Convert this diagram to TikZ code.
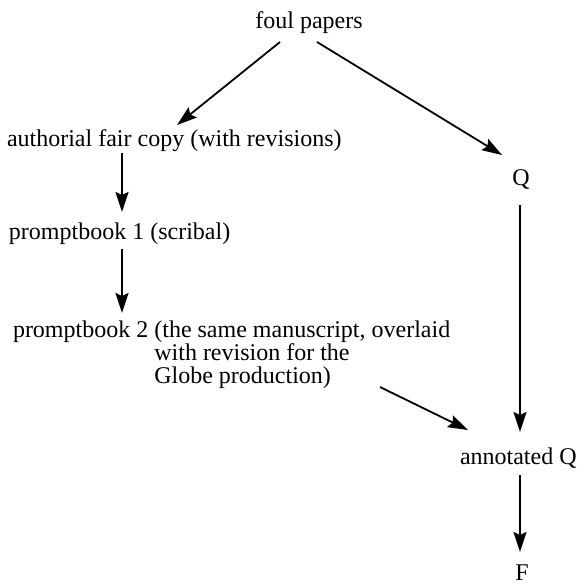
\documentclass[tikz,border=0pt]{standalone}
\usepackage{fontspec}
\setmainfont{Liberation Serif}
\usetikzlibrary{arrows.meta,calc}

\tikzset{
  txt/.style={inner sep=0pt, outer sep=0pt, font=\fontsize{24}{23}\selectfont},
  link/.style={line width=1.8pt, -{Stealth[length=20pt,width=13pt,inset=3pt]}}
}

\begin{document}
\begin{tikzpicture}[x=1pt, y=-1pt]
  \useasboundingbox (0,0) rectangle (588,584);

  % manuscript and print stages
  \node[txt, anchor=base] (fp) at (309,28) {foul papers};
  \node[txt, anchor=base west] (afc) at (7,146) {authorial fair copy (with revisions)};
  \node[txt, anchor=base] (q) at (521,185) {Q};
  \node[txt, anchor=base west] (pb1) at (9,239) {promptbook 1 (scribal)};
  \node[txt, anchor=north west, align=left] (pb2) at (13,321)
    {promptbook 2 (the same manuscript, overlaid\\
     \phantom{promptbook 2\ }with revision for the\\
     \phantom{promptbook 2\ }Globe production)};
  \node[txt, anchor=base west] (aq) at (460,464) {annotated Q};
  \node[txt, anchor=base] (f) at (522,580) {F};

  % lines of descent
  \draw[link] ($(fp.base)+(-29,14)$) -- ($(afc.base west)+(170,-21)$);
  \draw[link] ($(fp.base)+(8,14)$) -- ($(q.base)+(-19,-30)$);
  \draw[link] ($(afc.base west)+(115,7)$) -- ($(pb1.base west)+(113,-27)$);
  \draw[link] ($(pb1.base west)+(113,10)$) -- ($(pb2.north west)+(109,-8)$);
  \draw[link] ($(q.base)+(-1,20)$) -- ($(aq.base west)+(60,-32)$);
  \draw[link] ($(pb2.north west)+(367,66)$) -- ($(aq.base west)+(8,-34)$);
  \draw[link] ($(aq.base west)+(60,11)$) -- ($(f.base)+(-2,-28)$);
\end{tikzpicture}
\end{document}
